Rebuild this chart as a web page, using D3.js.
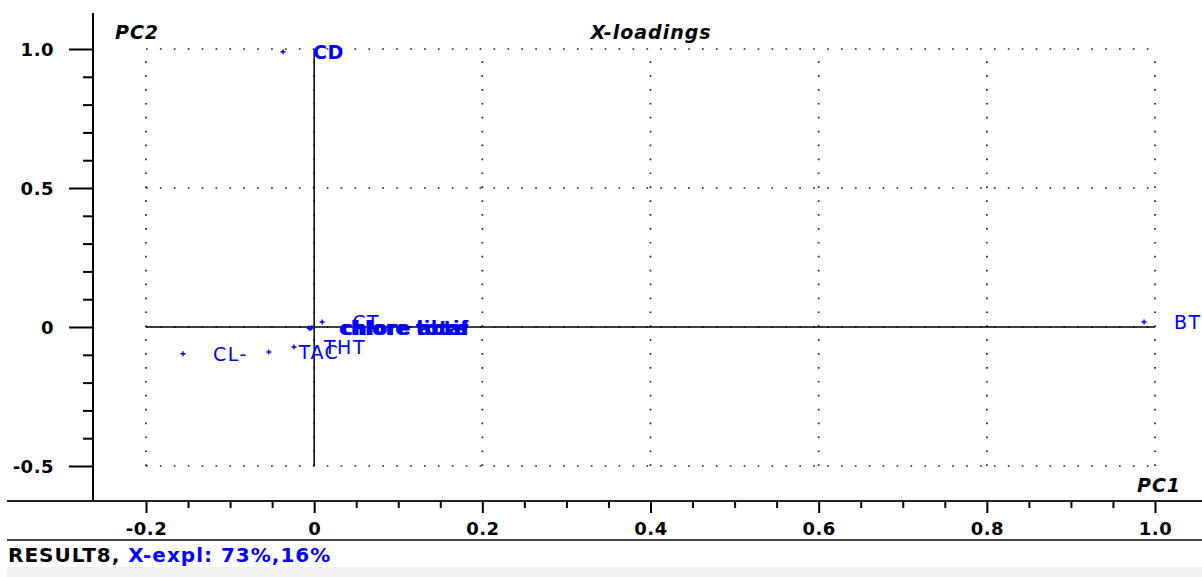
<!DOCTYPE html>
<html>
<head>
  <meta charset="UTF-8">
  <title>X-loadings</title>
  <style>
    body { margin: 0; overflow: hidden; background: #fff; }
    text { font-family: "DejaVu Sans", sans-serif; }
    .tick text { font-weight: bold; font-size: 18px; fill: #000; letter-spacing: 0.5px; }
    .tick line { stroke: #000; stroke-width: 2px; }
    .grid { stroke: #222; stroke-width: 1.7px; stroke-dasharray: 1.7 12.2; }
    .zero { stroke: #000; stroke-width: 1.5px; }
    .lbl { fill: #0000ff; font-size: 19px; letter-spacing: 1.5px; }
    .ttl { font-style: italic; font-weight: bold; font-size: 19px; letter-spacing: 1px; fill: #000; }
  </style>
</head>
<body>
  <script src="https://d3js.org/d3.v7.min.js"></script>
  <script>
    // variable names and loadings (PC1, PC2)
    const names = ["CD", "BT", "CL-", "TAC", "THT", "chlore total", "chlore libre", "chlore actif", "CT"];
    const pc1 = [-0.037, 0.987, -0.156, -0.054, -0.024, -0.006, -0.005, -0.003, 0.0095];
    const pc2 = [0.990, 0.018, -0.096, -0.090, -0.072, -0.004, -0.005, -0.003, 0.018];
    const boldNames = ["CD", "chlore total", "chlore libre", "chlore actif"];

    const xMajor = [-0.2, 0, 0.2, 0.4, 0.6, 0.8, 1.0];
    const yMajor = [-0.5, 0, 0.5, 1.0];
    const xMinor = d3.range(-0.2, 1.0001, 0.05);
    const yMinor = d3.range(-0.5, 1.0001, 0.1);

    const title = "X-loadings";
    const resultName = "RESULT8,";
    const explained = "X-expl: 73%,16%";

    const width = 1202, height = 577;
    const svg = d3.select("body").append("svg")
      .attr("width", width)
      .attr("height", height);

    const x = d3.scaleLinear().domain([-0.2, 1.0]).range([146, 1155]);
    const y = d3.scaleLinear().domain([-0.5, 1.0]).range([466, 49]);

    const fmt = d => (d === 0 ? "0" : d3.format(".1f")(d).replace("−", "-"));

    // dotted grid
    const grid = svg.append("g");
    grid.selectAll(".gx").data(xMajor).enter().append("line")
      .attr("class", "grid")
      .attr("x1", d => x(d)).attr("x2", d => x(d))
      .attr("y1", y(-0.5)).attr("y2", y(1.0));
    grid.selectAll(".gy").data(yMajor).enter().append("line")
      .attr("class", "grid")
      .attr("x1", x(-0.2)).attr("x2", x(1.0))
      .attr("y1", d => y(d)).attr("y2", d => y(d));

    // solid zero lines
    svg.append("line").attr("class", "zero")
      .attr("x1", x(-0.2)).attr("x2", x(1.0)).attr("y1", y(0)).attr("y2", y(0));
    svg.append("line").attr("class", "zero")
      .attr("x1", x(0)).attr("x2", x(0)).attr("y1", y(1.0)).attr("y2", y(-0.5));

    // y axis (left)
    const yAxisX = 93, xAxisY = 501;
    svg.append("g").attr("transform", `translate(${yAxisX},0)`)
      .call(d3.axisLeft(y).tickValues(yMinor.filter(v => !yMajor.some(m => Math.abs(m - v) < 1e-6)))
        .tickSize(10).tickFormat(""))
      .call(g => g.select(".domain").remove());
    svg.append("g").attr("transform", `translate(${yAxisX},0)`)
      .call(d3.axisLeft(y).tickValues(yMajor).tickSize(24).tickPadding(15).tickFormat(fmt))
      .call(g => g.select(".domain").remove())
      .call(g => g.selectAll("text").attr("dy", "0.36em"));
    svg.append("line")
      .attr("x1", yAxisX).attr("x2", yAxisX).attr("y1", 13).attr("y2", xAxisY)
      .attr("stroke", "#000").attr("stroke-width", 2);

    // x axis (bottom)
    svg.append("g").attr("transform", `translate(0,${xAxisY})`)
      .call(d3.axisBottom(x).tickValues(xMinor.filter(v => !xMajor.some(m => Math.abs(m - v) < 1e-6)))
        .tickSize(7).tickFormat(""))
      .call(g => g.select(".domain").remove());
    svg.append("g").attr("transform", `translate(0,${xAxisY})`)
      .call(d3.axisBottom(x).tickValues(xMajor).tickSize(12).tickPadding(8).tickFormat(fmt))
      .call(g => g.select(".domain").remove())
      .call(g => g.selectAll("text").attr("dy", "0.78em"));
    svg.append("line")
      .attr("x1", 7).attr("x2", width).attr("y1", xAxisY).attr("y2", xAxisY)
      .attr("stroke", "#222").attr("stroke-width", 2);

    // titles
    svg.append("text").attr("class", "ttl").attr("x", 115).attr("y", 39).text("PC2");
    svg.append("text").attr("class", "ttl").attr("x", 651).attr("y", 39)
      .attr("text-anchor", "middle").text(title);
    svg.append("text").attr("class", "ttl").attr("x", 1137).attr("y", 492).text("PC1");

    // points and labels
    const pts = names.map((n, i) => ({name: n, pc1: pc1[i], pc2: pc2[i]}));
    svg.append("g").selectAll("path").data(pts).enter().append("path")
      .attr("transform", d => `translate(${x(d.pc1)},${y(d.pc2)})`)
      .attr("d", "M-2.5,0H2.5M0,-2.5V2.5")
      .attr("stroke", "#0000ff").attr("stroke-width", 1.4);
    svg.append("g").selectAll("text").data(pts).enter().append("text")
      .attr("class", "lbl")
      .attr("x", d => x(d.pc1) + 30)
      .attr("y", d => y(d.pc2))
      .attr("dy", "0.36em")
      .attr("font-weight", d => boldNames.includes(d.name) ? "bold" : null)
      .style("letter-spacing", d => boldNames.includes(d.name) ? "0.5px" : null)
      .text(d => d.name);

    // status bar
    svg.append("line")
      .attr("x1", 7).attr("x2", width).attr("y1", 540).attr("y2", 540)
      .attr("stroke", "#444").attr("stroke-width", 2);
    const status = svg.append("text").attr("x", 8).attr("y", 562)
      .attr("font-weight", "bold").attr("font-size", "20px").attr("letter-spacing", "1px");
    status.append("tspan").attr("fill", "#000").text(resultName + " ");
    status.append("tspan").attr("fill", "#0000ff").text(explained);
    svg.append("rect").attr("x", 7).attr("y", 567).attr("width", width - 7).attr("height", 10)
      .attr("fill", "#f0f0f0");
  </script>
</body>
</html>
